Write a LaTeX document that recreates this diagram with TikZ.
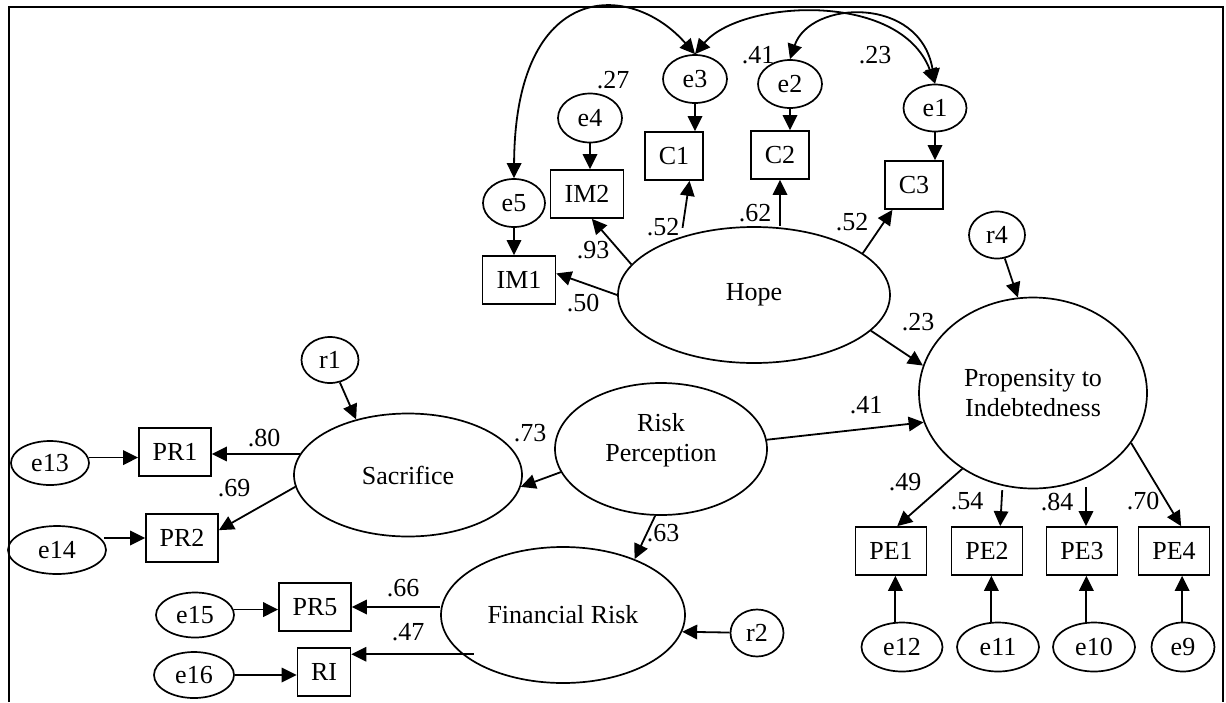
\documentclass[tikz,border=0pt]{standalone}
\usepackage{fontspec}
\setmainfont{Liberation Serif}
\usetikzlibrary{arrows.meta,calc,shapes.geometric}
\begin{document}
\begin{tikzpicture}[x=1pt,y=-1pt,
  every node/.style={font=\fontsize{26}{30}\selectfont, inner sep=0pt},
  ell/.style 2 args={draw, ellipse, line width=1.7pt, minimum width=#1, minimum height=#2},
  box/.style={draw, rectangle, line width=1.7pt, minimum width=#1, minimum height=48pt},
  lab/.style={},
  conn/.style={line width=1.8pt},
  arr/.style={conn, -{Triangle[length=15pt,width=14.5pt]}},
  rarr/.style={conn, {Triangle[length=15pt,width=14.5pt]}-},
  both/.style={conn, {Triangle[length=15pt,width=14.5pt]}-{Triangle[length=15pt,width=14.5pt]}}
]
\useasboundingbox (0,0) rectangle (1226,702);
\draw[line width=2.2pt] (9,702) -- (9,7) -- (1223,7) -- (1223,702);

% top cluster
\node[ell={64pt}{48pt}] (e3) at (695,79) {e3};
\node[ell={64pt}{48pt}] (e2) at (790,84) {e2};
\node[ell={63pt}{47pt}] (e1) at (935,108) {e1};
\node[ell={64pt}{49pt}] (e4) at (590,118) {e4};
\node[ell={62pt}{48pt}] (e5) at (514,203) {e5};
\node[box=73pt] (IM2) at (587,194) {IM2};
\node[box=58pt] (C1) at (674,156) {C1};
\node[box=58pt] (C2) at (780,155) {C2};
\node[box=58pt] (C3) at (914,185) {C3};
\node[box=73pt] (IM1) at (519,280) {IM1};
\node[ell={272pt}{136pt}] (Hope) at (754,295) {Hope};
\node[ell={56pt}{47pt}] (r4) at (997,235) {r4};
\node[ell={228pt}{191pt}, align=center] (Prop) at (1033,393) {Propensity to\\Indebtedness};

% PE
\node[box=71pt] (PE1) at (891,551) {PE1};
\node[box=71pt] (PE2) at (987,551) {PE2};
\node[box=71pt] (PE3) at (1082,551) {PE3};
\node[box=71pt] (PE4) at (1174,551) {PE4};
\node[ell={81pt}{49pt}] (e12) at (902,647) {e12};
\node[ell={82pt}{49pt}] (e11) at (998,647) {e11};
\node[ell={82pt}{49pt}] (e10) at (1094,647) {e10};
\node[ell={63pt}{49pt}] (e9) at (1183,647) {e9};

% left cluster
\node[ell={57pt}{46pt}] (r1) at (330,360) {r1};
\node[ell={228pt}{123pt}] (Sac) at (408,475) {Sacrifice};
\node[box=72pt] (PR1) at (175,452) {PR1};
\node[ell={78pt}{44pt}] (e13) at (50,463) {e13};
\node[box=72pt] (PR2) at (182,538) {PR2};
\node[ell={98pt}{48pt}] (e14) at (57,550) {e14};
\node[ell={212pt}{132pt}] (RP) at (661,449) {};
\node[align=center] (RPt) at ($(RP)+(0,-9)$) {Risk\\Perception};
\node[ell={244pt}{136pt}] (FR) at (563,615) {Financial Risk};
\node[box=72pt] (PR5) at (315,607) {PR5};
\node[box=53pt] (RI) at (324,672) {RI};
\node[ell={78pt}{45pt}] (e15) at (195,615) {e15};
\node[ell={80pt}{46pt}] (e16) at (194,675) {e16};
\node[ell={53pt}{47pt}] (r2) at (757,633) {r2};

% error arrows top
\draw[arr] (e5.south) -- (e5.south |- IM1.north);
\draw[arr] (e4.south) -- (e4.south |- IM2.north);
\draw[arr] (e3.south) -- (e3.south |- C1.north);
\draw[arr] (e2.south) -- (e2.south |- C2.north);
\draw[arr] (e1.south) -- (e1.south |- C3.north);

% Hope loadings
\draw[arr] (Hope.west) -- (IM1.10);
\draw[arr] (Hope.166) -- (IM2.-79);
\draw[rarr] (C1.-58) -- ++(-7,47);
\draw[arr] (C2.south |- Hope.north) -- (C2.south);
\draw[arr] (Hope.21) -- (C3.-131);

% structural
\draw[arr] (Hope.-17) -- (Prop.166);
\draw[arr] (RP.5) -- (Prop.195);
\draw[arr] (RP.193) -- (Sac.-6);
\draw[arr] (RP.265) -- (FR.38);
\draw[arr] (r2) -- (FR.-8);
\draw[arr] (r1) -- (Sac.133);
\draw[arr] (r4) -- (Prop.99);

% left loadings
\draw[arr] (Sac.169) -- (Sac.169 -| PR1.east);
\draw[arr] (Sac.186) -- (PR2.12);
\draw[arr] (e13.8) -- (e13.8 -| PR1.west);
\draw[rarr] (PR2.west) -- ++(-41,0);
\draw[arr] (PR5.east -| FR.west) -- (PR5.east);
\draw[rarr] (RI.33) -- ++(123,0);
\draw[arr] (e15.8) -- (e15.8 -| PR5.west);
\draw[arr] (e16.east) -- (e16.east -| RI.west);

% Propensity loadings
\draw[arr] (Prop.227) -- (PE1.76);
\draw[rarr] (PE2.62) -- ++(2,-36);
\draw[rarr] (PE3.81) -- ++(0,-39);
\draw[arr] (Prop.-27) -- (PE4.74);
\draw[rarr] (PE1.-80) -- (PE1.-80 |- e12.north);
\draw[rarr] (PE2.-80) -- (PE2.-80 |- e11.north);
\draw[rarr] (PE3.-80) -- (PE3.-80 |- e10.north);
\draw[rarr] (PE4.-72) -- (PE4.-72 |- e9.north);

% covariances
\draw[both] (e5.north) .. controls (515,-20) and (630,-20) .. (e3.north);
\draw[both] (e3.north) .. controls (740,0) and (900,-10) .. (e1.north);
\draw[both] (e2.north) .. controls (810,0) and (920,-5) .. (e1.north);

% labels
\node[lab] (l27) at (613,80) {.27};
\node[lab] (l41a) at (758,55) {.41};
\node[lab] (l23a) at (875,55) {.23};
\node[lab] (l93) at (593,250) {.93};
\node[lab] (l52a) at (663,227) {.52};
\node[lab] (l62) at (755,213) {.62};
\node[lab] (l52b) at (852,222) {.52};
\node[lab] (l50) at (583,303) {.50};
\node[lab] (l23b) at (918,322) {.23};
\node[lab] (l41b) at (866,405) {.41};
\node[lab] (l73) at (530,433) {.73};
\node[lab] (l80) at (264,438) {.80};
\node[lab] (l69) at (234,488) {.69};
\node[lab] (l49) at (905,482) {.49};
\node[lab] (l54) at (967,501) {.54};
\node[lab] (l84) at (1057,502) {.84};
\node[lab] (l70) at (1143,501) {.70};
\node[lab] (l63) at (663,533) {.63};
\node[lab] (l66) at (403,588) {.66};
\node[lab] (l47) at (408,632) {.47};
\end{tikzpicture}
\end{document}
